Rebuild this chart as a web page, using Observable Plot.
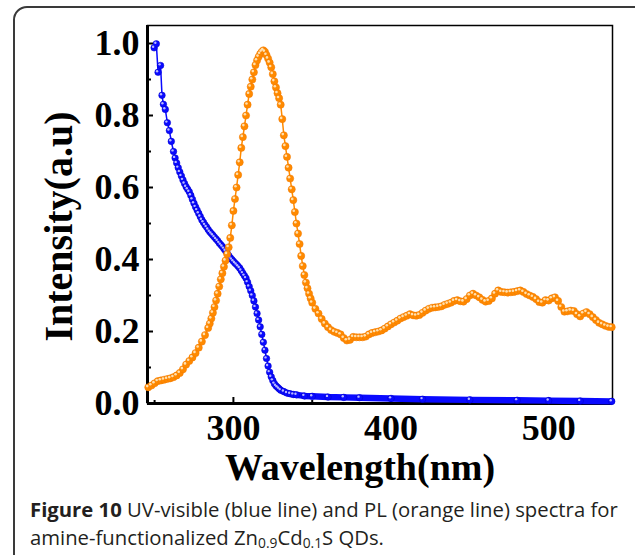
<!DOCTYPE html>
<html>
<head>
<meta charset="utf-8">
<script src="https://cdn.jsdelivr.net/npm/d3@7"></script>
<script src="https://cdn.jsdelivr.net/npm/@observablehq/plot@0.6"></script>
<style>
  html, body { margin: 0; padding: 0; background: #fff; }
  #wrap { position: relative; width: 635px; height: 555px; overflow: hidden; background: #fff; }
  #box { position: absolute; left: 13px; top: 6px; width: 700px; height: 620px;
         border: 2px solid #3a3a3a; border-radius: 14px; box-sizing: border-box; }
  #chart { position: absolute; left: 0; top: 0; }
  #caption { position: absolute; left: 30px; top: 496px; width: 620px;
             font-family: "Open Sans", sans-serif; font-size: 20.3px; line-height: 27.8px;
             color: #231f20; white-space: nowrap; }
  #caption b { font-weight: 700; }
  #caption sub { font-size: 68%; vertical-align: -0.25em; line-height: 0; }
</style>
</head>
<body>
<div id="wrap">
  <div id="box"></div>
  <div id="chart"></div>
  <div id="caption"><b>Figure 10</b> UV-visible (blue line) and PL (orange line) spectra for<br>amine-functionalized Zn<sub>0.9</sub>Cd<sub>0.1</sub>S QDs.</div>
</div>
<script>
// PL spectrum (orange)
const plWavelength = [246,248,250,252,254,256,258,260,262,264,266,268,270,272,274,276,278,280,282,284,
  285,286,287,288,289,290,291,292,293,294,295,296,297,298,299,300,301,302,303,304,305,306,307,308,309,310,
  311,312,313,314,315,316,317,318,319,320,321,322,323,324,325,326,327,328,329,330,331,332,333,334,335,336,
  337,338,339,340,341,342,343,344,345,346,347,348,349,350,352,354,356,358,360,362,364,366,368,370,372,374,
  376,378,380,382,384,386,388,390,392,394,396,398,400,402,404,406,408,410,412,414,416,418,420,422,424,426,
  428,430,432,434,436,438,440,442,444,446,448,450,452,454,456,458,460,462,464,466,468,470,472,474,476,478,
  480,482,484,486,488,490,492,494,496,498,500,502,504,506,508,510,512,514,516,518,520,522,524,526,528,530,
  532,534,536,538,540];
const plIntensity = [0.045,0.050,0.056,0.062,0.064,0.066,0.068,0.070,0.073,0.078,0.085,0.095,0.108,0.118,0.128,0.140,0.155,0.172,0.190,0.210,
  0.222,0.236,0.252,0.268,0.286,0.305,0.325,0.345,0.362,0.380,0.397,0.415,0.434,0.460,0.495,0.535,0.568,0.600,0.635,0.670,0.710,0.740,0.770,0.800,0.830,0.860,
  0.880,0.900,0.920,0.940,0.953,0.963,0.971,0.977,0.981,0.977,0.968,0.958,0.947,0.934,0.915,0.895,0.878,0.862,0.848,0.830,0.790,0.745,0.715,0.685,0.655,0.625,
  0.595,0.565,0.532,0.500,0.472,0.443,0.410,0.382,0.357,0.336,0.320,0.305,0.292,0.280,0.263,0.250,0.235,0.222,0.212,0.204,0.199,0.196,0.192,0.182,0.175,0.177,
  0.185,0.184,0.184,0.184,0.186,0.192,0.196,0.198,0.200,0.203,0.208,0.214,0.220,0.225,0.230,0.236,0.240,0.244,0.248,0.245,0.244,0.246,0.252,0.258,0.263,0.266,
  0.267,0.268,0.270,0.274,0.277,0.280,0.285,0.287,0.284,0.283,0.290,0.300,0.305,0.300,0.295,0.288,0.283,0.285,0.292,0.305,0.314,0.310,0.309,0.308,0.309,0.310,
  0.312,0.314,0.310,0.304,0.300,0.296,0.290,0.282,0.280,0.287,0.286,0.292,0.295,0.285,0.268,0.255,0.256,0.258,0.257,0.248,0.242,0.250,0.254,0.248,0.240,0.232,
  0.224,0.220,0.216,0.213,0.212];

// UV-visible absorption spectrum (blue)
const uvWavelength = [249.7,251.1,252.2,253.8,254.7,255.6,256.8,258.1,259.4,260.6,262,263,264,265,266,267,268,269,270,
  271,272,273,274,275,276,277,278,279,280,281,282,283,284,285,286,287,288,289,290,291,292,293,294,295,296,297,298,299,300,
  301,302,303,304,305,306,307,308,309,310,311,312,313,314,315,316,317,318,319,320,321,322,323,324,325,326,327,328,329,330,
  332,334,336,338,340,345,350,360,370,380,400,420,450,480,500,520,540];
const uvIntensity = [0.988,0.999,0.920,0.939,0.856,0.831,0.817,0.780,0.758,0.728,0.700,0.682,0.668,0.655,0.643,0.632,0.621,0.611,0.602,
  0.595,0.588,0.578,0.567,0.556,0.546,0.537,0.528,0.519,0.510,0.503,0.496,0.490,0.483,0.477,0.472,0.467,0.462,0.457,0.452,0.446,0.441,0.436,0.430,0.424,0.418,0.411,0.405,0.400,0.395,
  0.390,0.386,0.381,0.376,0.369,0.362,0.355,0.348,0.337,0.325,0.313,0.300,0.285,0.268,0.250,0.232,0.213,0.192,0.170,0.148,0.125,0.104,0.087,0.074,0.064,0.055,0.049,0.045,0.041,0.037,
  0.033,0.029,0.027,0.025,0.024,0.021,0.020,0.018,0.017,0.016,0.014,0.012,0.010,0.009,0.008,0.007,0.006];

const xDomain = [245.5, 540.5];
const yDomain = [0, 1.05];
const xMajorTicks = [300, 400, 500];
const xMinorTicks = [250, 350, 450];
const yMajorTicks = [0, 0.2, 0.4, 0.6, 0.8, 1.0];
const yMinorTicks = [0.1, 0.3, 0.5, 0.7, 0.9];
const xTitle = "Wavelength(nm)";
const yTitle = "Intensity(a.u)";

const pl = plWavelength.map((w, i) => ({wavelength: w, intensity: plIntensity[i]}));
const uv = uvWavelength.map((w, i) => ({wavelength: w, intensity: uvIntensity[i]}));

const orange = "#ff8a00";
const blue = "#0a0aff";
const serif = "Liberation Serif, Times New Roman, serif";

const chart = Plot.plot({
  width: 635,
  height: 495,
  marginLeft: 147,
  marginRight: 23,
  marginTop: 25,
  marginBottom: 92,
  style: {background: "transparent", fontFamily: serif, fontWeight: "bold", overflow: "visible"},
  x: {domain: xDomain, label: null},
  y: {domain: yDomain, label: null},
  marks: [
    Plot.frame({stroke: "black", strokeWidth: 1.5}),
    Plot.ruleX([xDomain[0]], {stroke: "black", strokeWidth: 3}),
    Plot.ruleY([yDomain[0]], {stroke: "black", strokeWidth: 3}),
    Plot.axisY(yMajorTicks, {tickSize: 6, dx: 6, strokeWidth: 2, tickFormat: () => "", label: null}),
    Plot.axisY(yMinorTicks, {tickSize: 4, dx: 4, strokeWidth: 2, tickFormat: () => "", label: null}),
    Plot.axisX(xMajorTicks, {tickSize: 6, dy: -6, strokeWidth: 2, tickFormat: () => "", label: null}),
    Plot.axisX(xMinorTicks, {tickSize: 3, dy: -3, strokeWidth: 2, tickFormat: () => "", label: null}),
    Plot.axisY(yMajorTicks, {tickSize: 0, tickPadding: 8, tickFormat: d3.format(".1f"), fontSize: 36,
      fontWeight: "bold", fontFamily: serif, fill: "black", label: null}),
    Plot.axisX(xMajorTicks, {tickSize: 0, tickPadding: 11, tickFormat: d3.format("d"), fontSize: 36,
      fontWeight: "bold", fontFamily: serif, fill: "black", label: null}),
    Plot.text([xTitle], {frameAnchor: "bottom", textAnchor: "middle", lineAnchor: "middle", dx: -20, dy: 64,
      fontSize: 38, fontWeight: "bold", fontFamily: serif, fill: "black"}),
    Plot.text([yTitle], {frameAnchor: "left", textAnchor: "middle", lineAnchor: "middle", rotate: -90, dx: -88, dy: 12,
      fontSize: 40, fontWeight: "bold", fontFamily: serif, fill: "black"}),
    // UV-vis (blue)
    Plot.line(uv, {x: "wavelength", y: "intensity", stroke: blue, strokeWidth: 1.5}),
    Plot.line(uv.filter(d => d.wavelength >= 328), {x: "wavelength", y: "intensity", stroke: blue, strokeWidth: 6.4}),
    Plot.dot(uv, {x: "wavelength", y: "intensity", r: 3.3, fill: blue, stroke: "#0000c8", strokeWidth: 0.5}),
    Plot.dot(uv, {x: "wavelength", y: "intensity", r: 1.2, fill: "#b8b8ff", dx: -1, dy: -1.1}),
    // PL (orange)
    Plot.line(pl, {x: "wavelength", y: "intensity", stroke: orange, strokeWidth: 1.5}),
    Plot.dot(pl, {x: "wavelength", y: "intensity", r: 3.6, fill: orange, stroke: "#f07800", strokeWidth: 0.5}),
    Plot.dot(pl, {x: "wavelength", y: "intensity", r: 1.3, fill: "#ffe0b0", dx: -1.1, dy: -1.2})
  ]
});
document.getElementById("chart").appendChild(chart);
</script>
</body>
</html>
